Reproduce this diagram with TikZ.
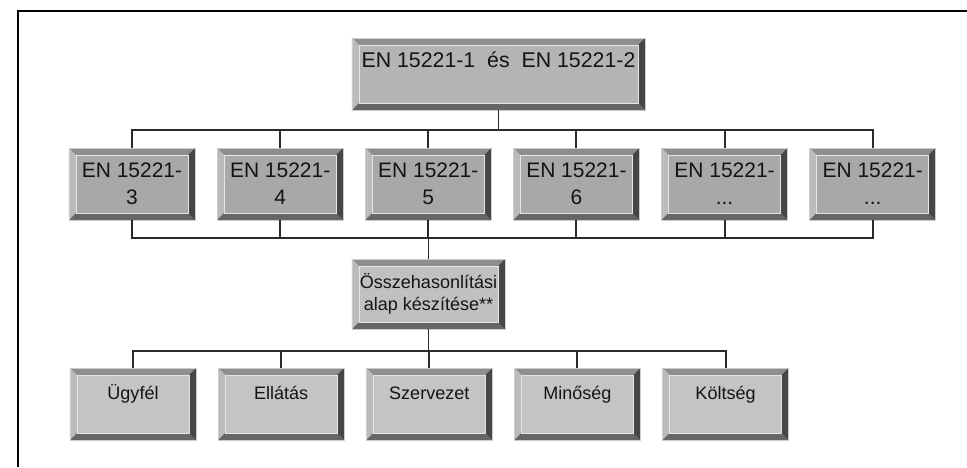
\documentclass[tikz,border=0pt]{standalone}
\usepackage{fontspec}
\setmainfont{Liberation Sans}
\usetikzlibrary{positioning}
\definecolor{Ink}{HTML}{141414}
\definecolor{Wire}{HTML}{2A2A2A}
\definecolor{FaceHead}{HTML}{B4B4B4}
\definecolor{FaceEN}{HTML}{A8A8A8}
\definecolor{FaceBase}{HTML}{C0C0C0}
\definecolor{FaceArea}{HTML}{C4C4C4}
\definecolor{BevTop}{HTML}{8E8E8E}
\definecolor{BevLeft}{HTML}{BBBBBB}
\definecolor{BevBot}{HTML}{666666}
\definecolor{BevRight}{HTML}{464646}
\newcommand{\bevw}{0.21cm}
\tikzset{
  keybox/.style={
    rectangle, draw=black!20, line width=0.4pt, fill=#1, inner sep=0pt,
    align=center, text=Ink,
    path picture={
      \path (path picture bounding box.north west) coordinate (kNW)
            (path picture bounding box.north east) coordinate (kNE)
            (path picture bounding box.south west) coordinate (kSW)
            (path picture bounding box.south east) coordinate (kSE);
      \fill[BevTop] (kNW) -- (kNE) -- ([shift={(-\bevw,-\bevw)}]kNE)
        -- ([shift={(\bevw,-\bevw)}]kNW) -- cycle;
      \fill[BevLeft] (kNW) -- ([shift={(\bevw,-\bevw)}]kNW)
        -- ([shift={(\bevw,\bevw)}]kSW) -- (kSW) -- cycle;
      \fill[BevBot] (kSW) -- ([shift={(\bevw,\bevw)}]kSW)
        -- ([shift={(-\bevw,\bevw)}]kSE) -- (kSE) -- cycle;
      \fill[BevRight] (kNE) -- (kSE) -- ([shift={(-\bevw,\bevw)}]kSE)
        -- ([shift={(-\bevw,-\bevw)}]kNE) -- cycle;
      \draw[white!80!gray, line width=0.8pt] ([shift={(\bevw,-\bevw)}]kNW)
        rectangle ([shift={(-\bevw,\bevw)}]kSE);
    }
  },
  headbox/.style={keybox=FaceHead, minimum width=8.79cm, minimum height=2.16cm,
    font=\fontsize{18.2}{23}\selectfont, text height=0.45cm, text depth=0.84cm},
  enbox/.style={keybox=FaceEN, minimum width=3.78cm, minimum height=2.16cm,
    font=\fontsize{17.9}{23}\selectfont},
  basebox/.style={keybox=FaceBase, minimum width=4.59cm, minimum height=2.1cm,
    font=\fontsize{15.4}{19}\selectfont},
  areabox/.style={keybox=FaceArea, minimum width=3.78cm, minimum height=2.16cm,
    font=\fontsize{15.4}{19}\selectfont, text height=0.39cm, text depth=0.66cm},
  link/.style={draw=Wire, line width=1.6pt}
}
\begin{document}
\begin{tikzpicture}[x=0.03cm,y=-0.03cm,node distance=0.65cm]
  \useasboundingbox (0,0) rectangle (967,467);
  % frame
  \draw[black, line width=1.6pt] (18,467) -- (18,11) -- (967,11);
  % boxes
  \node[headbox] (top) at (498.5,74) {EN 15221-1\ \ és\ \ EN 15221-2};
  \node[enbox] (en3) at (132,184) {EN 15221-\\3};
  \node[enbox,right=of en3] (en4) {EN 15221-\\4};
  \node[enbox,right=of en4] (en5) {EN 15221-\\5};
  \node[enbox,right=of en5] (en6) {EN 15221-\\6};
  \node[enbox,right=of en6] (enx) {EN 15221-\\...};
  \node[enbox,right=of enx] (eny) {EN 15221-\\...};
  \node[basebox] (cmp) at (428.5,294) {Összehasonlítási\\alap készítése**};
  \node[areabox] (ugy) at (133,404) {Ügyfél};
  \node[areabox,right=of ugy] (ell) {Ellátás};
  \node[areabox,right=of ell] (szv) {Szervezet};
  \node[areabox,right=of szv] (min) {Minőség};
  \node[areabox,right=of min] (kol) {Költség};
  % connectors
  \foreach \n in {en3,en4,en5,en6,enx,eny}{
    \draw[link] (top.south) -- ++(0,20) -| (\n.north);
    \draw[link] (\n.south) -- ++(0,18) -| (cmp.north);
  }
  \foreach \n in {ugy,ell,szv,min,kol}
    \draw[link] (cmp.south) -- ++(0,22) -| (\n.north);
\end{tikzpicture}
\end{document}
